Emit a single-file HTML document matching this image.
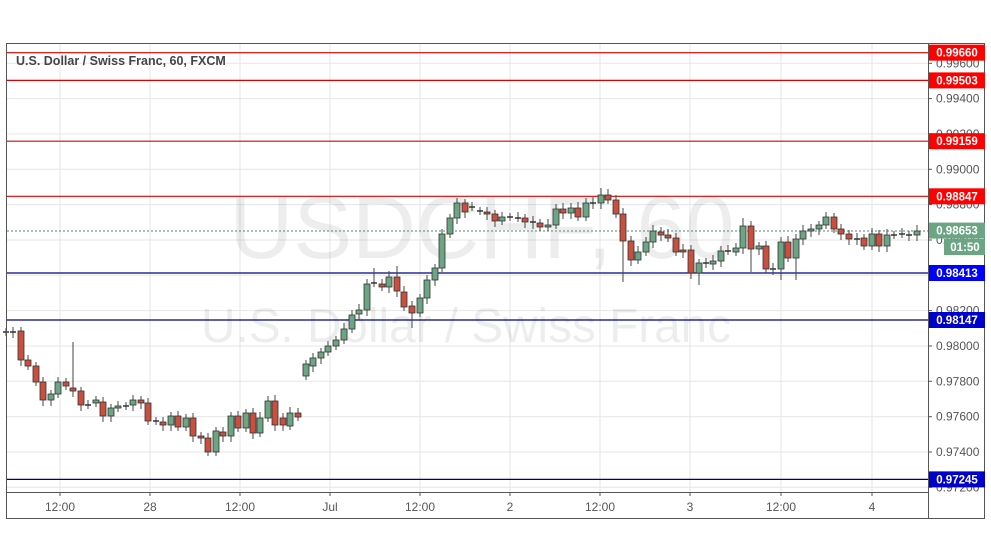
<!DOCTYPE html>
<html><head><meta charset="utf-8"><style>
html,body{margin:0;padding:0;background:#fff;width:991px;height:556px;overflow:hidden}
svg{display:block;font-family:"Liberation Sans",sans-serif}
</style></head><body>
<svg id="c" width="991" height="556" xmlns="http://www.w3.org/2000/svg"></svg>
<script>
const s=document.getElementById('c');let h='';
const Y=p=>273-(p-0.98413)*17670;
for(let p=0.972;p<=0.99601;p+=0.002){const y=Y(p).toFixed(1);h+=`<line x1="7" x2="928" y1="${y}" y2="${y}" stroke="#e6e6e6"/>`;
 h+=`<line x1="928" x2="932" y1="${y}" y2="${y}" stroke="#555"/><text x="936" y="${+y+4}" font-size="12" fill="#555">${p.toFixed(5)}</text>`;}
const xs=[[60,'12:00'],[150,'28'],[240,'12:00'],[330,'Jul'],[420,'12:00'],[510,'2'],[600,'12:00'],[690,'3'],[781,'12:00'],[872,'4']];
xs.forEach(([x,t])=>{h+=`<line x1="${x}" x2="${x}" y1="44" y2="492" stroke="#e6e6e6"/><line x1="${x}" x2="${x}" y1="492" y2="496" stroke="#555"/><text x="${x}" y="511" font-size="12" fill="#555" text-anchor="middle">${t}</text>`;});
h+=`<text x="482" y="258" font-size="88" fill="#000" fill-opacity="0.07" text-anchor="middle" textLength="505" lengthAdjust="spacingAndGlyphs">USDCHF, 60</text>`;
h+=`<text x="466" y="342" font-size="48" fill="#000" fill-opacity="0.07" text-anchor="middle" textLength="530" lengthAdjust="spacingAndGlyphs">U.S. Dollar / Swiss Franc</text>`;
[[0.99660,'#d00'],[0.99503,'#d00'],[0.99159,'#d00'],[0.98847,'#d00'],[0.98413,'#000080'],[0.98147,'#000080'],[0.97245,'#000080']].forEach(([p,c])=>{const y=Y(p).toFixed(1);h+=`<line x1="7" x2="928" y1="${y}" y2="${y}" stroke="${c}" stroke-width="1.2"/>`});
h+=`<line x1="7" x2="928" y1="231" y2="231" stroke="#4a8a6a" stroke-dasharray="2,2"/>`;
const C=[[6,332,332],[13,332,332],[21,331,360],[28,360,366],[36,366,382],[43,382,400],[51,400,394],[58,394,382],[66,382,386],[73,388,391],[81,391,405],[88,405,405],[96,403,400],[103,402,416],[111,416,408],[118,408,406],[126,406,406],[133,405,400],[141,400,403],[148,403,421],[156,421,421],[163,422,425],[171,425,416],[178,416,427],[186,427,418],[193,418,436],[201,436,438],[208,438,452],[216,452,431],[223,432,436],[231,436,416],[238,416,428],[246,428,413],[253,413,433],[260,433,418],[268,418,401],[275,401,425],[283,418,425],[290,426,413],[298,413,417],
[306,376,364],[313,366,358],[321,358,352],[328,352,346],[336,346,340],[344,340,329],[352,329,315],[359,314,310],[367,310,284],[374,283,283],[382,284,287],[389,287,277],[397,277,291],[404,292,307],[412,306,313],[420,313,298],[427,298,280],[435,280,268],[442,268,234],[450,234,218],[457,218,203],[465,203,212],[472,207,207],[480,211,211],[487,212,214],[495,214,221],[502,221,217],[510,217,217],[518,218,218],[525,218,222],[533,222,223],[540,223,227],[548,227,225],[556,225,209],[563,209,213],[571,213,208],[578,208,217],[586,217,203],[593,203,203],[601,203,195],[608,195,200],[616,200,214],
[623,214,241],[631,241,260],[638,260,252],[646,252,242],[653,242,231],[661,232,235],[668,235,238],[676,238,252],[683,250,252],[691,250,273],[699,273,263],[706,263,264],[713,264,261],[721,261,251],[728,251,251],[736,252,248],[743,248,226],[751,226,249],[759,249,246],[766,246,269],[773,269,269],[781,269,242],[788,242,258],[796,258,239],[803,239,231],[811,231,229],[819,229,225],[826,225,217],[834,217,229],[841,229,234],[849,234,239],[857,239,239],[864,238,246],[872,246,234],[879,234,246],[887,246,235],[894,235,235],[902,234,234],[909,235,235],[917,235,231]];
const W={73:[342,null],623:[null,282],699:[null,285],781:[null,280],796:[null,280],601:[188,null],374:[268,null],397:[266,null],412:[null,328],743:[218,null],751:[null,272]};
C.forEach(([x,o,c])=>{const up=c<o;let top=Math.min(o,c),bot=Math.max(o,c);let hi=top-4-(x%3),lo=bot+4+(x%2)*2;if(W[x]){if(W[x][0])hi=W[x][0];if(W[x][1])lo=W[x][1];}
 h+=`<line x1="${x}" x2="${x}" y1="${hi}" y2="${lo}" stroke="#444"/>`;
 if(bot-top<1.5){h+=`<line x1="${x-3}" x2="${x+3}" y1="${top}" y2="${top}" stroke="#333" stroke-width="1.5"/>`;}
 else h+=`<rect x="${x-3}" y="${top}" width="6" height="${bot-top}" fill="${up?'#6ba583':'#c9503f'}" stroke="#333" stroke-width="0.8"/>`;});
h+=`<rect x="6.5" y="43.5" width="978" height="475" fill="none" stroke="#555"/><line x1="928.5" x2="928.5" y1="44" y2="519" stroke="#555"/><line x1="7" x2="928" y1="492.5" y2="492.5" stroke="#555"/>`;
h+=`<text x="16" y="65" font-size="12.5" font-weight="bold" fill="#444">U.S. Dollar / Swiss Franc, 60, FXCM</text>`;
[[0.99660,'#f00','0.99660'],[0.99503,'#f00','0.99503'],[0.99159,'#f00','0.99159'],[0.98847,'#f00','0.98847'],[0.98653,'#6ba583','0.98653'],[0.98413,'#00f','0.98413'],[0.98147,'#00c','0.98147'],[0.97245,'#00c','0.97245']].forEach(([p,c,t])=>{const y=Y(p);h+=`<rect x="929" y="${y-8}" width="56" height="16" fill="${c}"/><text x="957" y="${y+4}" font-size="11.5" font-weight="bold" fill="#fff" text-anchor="middle">${t}</text>`});
h+=`<rect x="944" y="239" width="41" height="16" fill="#6ba583"/><text x="965" y="251" font-size="11.5" font-weight="bold" fill="#fff" text-anchor="middle">01:50</text>`;
s.innerHTML=h;
</script>
</body></html>
